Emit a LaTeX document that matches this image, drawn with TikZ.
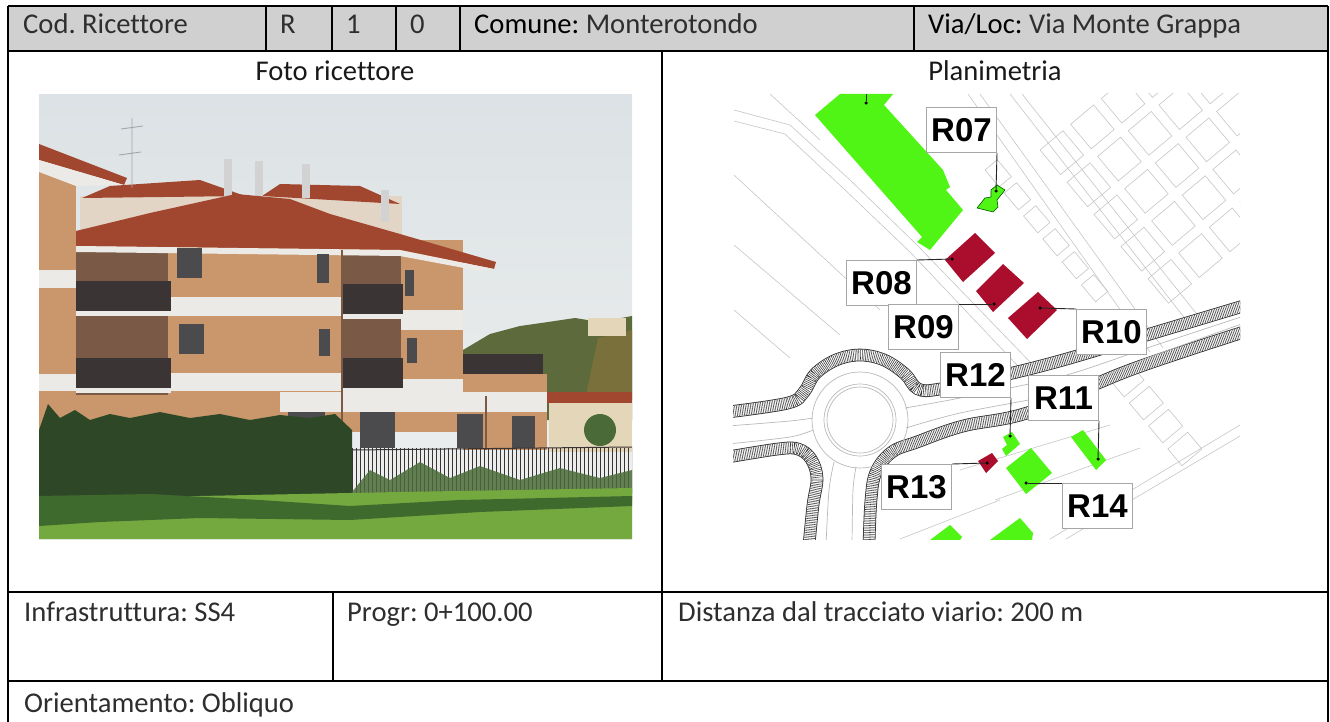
\documentclass[tikz,border=0pt]{standalone}
\usepackage{fontspec}
\setmainfont{Carlito}[Ligatures=NoCommon]
\newfontfamily\mapfont{Liberation Sans}
\frenchspacing
\definecolor{headgray}{HTML}{D0D0D0}
\definecolor{mapgreen}{RGB}{80,245,22}
\definecolor{mapred}{RGB}{170,14,44}
\definecolor{skytop}{HTML}{DCE2E5}
\definecolor{skybot}{HTML}{EEF0EF}
\definecolor{brick}{HTML}{C9976B}
\definecolor{brickdark}{HTML}{7A5A47}
\definecolor{roof}{HTML}{A2472F}
\definecolor{stripe}{HTML}{ECEAE6}
\definecolor{rail}{HTML}{3A3434}
\definecolor{window}{HTML}{4B4B4D}
\definecolor{hill}{HTML}{5D6A3B}
\definecolor{hedge}{HTML}{2E4827}
\definecolor{hedgelight}{HTML}{4A6B37}
\definecolor{grass}{HTML}{74A93F}
\definecolor{bush}{HTML}{3F6A2D}
\definecolor{cream}{HTML}{E4D6B8}

\begin{document}
\begin{tikzpicture}[x=1pt,y=-1pt,
  grid line/.style={line width=2.6pt,black},
  cell text/.style={anchor=base west,inner sep=0pt,text=black!82,font=\fontsize{28.6}{32}\selectfont},
  title text/.style={anchor=base,inner sep=0pt,text=black!90,font=\fontsize{28.6}{32}\selectfont},
  map label/.style={anchor=north west,draw=gray!70,line width=1pt,fill=white,minimum width=70pt,minimum height=45pt,inner sep=0pt,font=\mapfont\bfseries\fontsize{33}{33}\selectfont},
  map dot/.style={circle,fill=black,inner sep=0pt,minimum size=3.5pt},
  leader/.style={draw=black!85,line width=0.9pt},
  lot/.style={draw=gray!45,line width=0.6pt},
  road edge/.style={draw=gray!30!black,solid,line width=0.8pt,double=white,double distance=11pt},
  road/.style={draw=gray!45!black,line width=11pt,dash pattern=on 0.55pt off 1.2pt,preaction={road edge}},
  lane/.style={draw=gray!55,line width=0.7pt},
  house/.style={fill=mapgreen},
  receiver/.style={fill=mapred}]

  \useasboundingbox (0,0) rectangle (1330,722);
  \fill[white] (0,0) rectangle (1330,722);
  \fill[headgray] (8,6) rectangle (1328,51);

  % foto
  \begin{scope}
    \clip (39,95) rectangle (632,539);
    \fill[top color=skytop,bottom color=skybot] (39,95) rectangle (632,539);
    \fill[hill] (463,350) -- (490,334) -- (520,326) -- (548,322) -- (575,318) -- (600,322) -- (632,316) -- (632,420) -- (463,420) -- cycle;
    \fill[hill!70!brown] (598,338) -- (632,330) -- (632,400) -- (585,400) -- cycle;
    \fill[cream] (588,318) rectangle (626,336);
    \fill[brick] (39,170) rectangle (76,445);
    \fill[stripe] (39,270) rectangle (76,288);
    \fill[stripe] (39,374) rectangle (76,391);
    \fill[roof] (39,144) -- (127,178) -- (124,185) -- (39,160) -- cycle;
    \fill[stripe] (39,160) -- (124,185) -- (76,186) -- (39,172) -- cycle;
    \fill[stripe!80!brown] (80,196) rectangle (240,234);
    \fill[stripe!80!brown] (270,196) rectangle (402,240);
    \fill[roof] (82,198) -- (110,186) -- (200,180) -- (245,196) -- cycle;
    \fill[roof] (262,196) -- (280,184) -- (360,186) -- (400,204) -- cycle;
    \foreach \cx/\ct/\cb in {228/159/200,259/161/202,306/164/198,385/190/222}
      \fill[gray!35] (\cx-4,\ct) rectangle (\cx+4,\cb);
    \draw[gray!70,line width=0.9pt] (132,118) -- (132,188) (121,129) -- (143,126) (119,155) -- (141,152);
    \fill[brick] (76,240) rectangle (463,432);
    \fill[brickdark] (76,252) rectangle (168,395);
    \fill[brickdark] (343,254) rectangle (401,395);
    \fill[stripe] (168,297) rectangle (343,316);
    \fill[stripe] (401,310) rectangle (463,330);
    \fill[stripe] (168,373) rectangle (343,391);
    \fill[stripe] (401,379) rectangle (463,396);
    \fill[brick] (463,374) rectangle (547,450);
    \fill[stripe] (280,392) rectangle (547,412);
    \fill[rail] (463,354) rectangle (543,374);
    \fill[roof] (76,231) -- (150,213) -- (236,194) -- (290,199) -- (330,214) -- (400,234) -- (496,262) -- (494,269) -- (400,250) -- (76,246) -- cycle;
    \fill[stripe] (76,246) -- (400,250) -- (494,269) -- (480,271) -- (400,256) -- (76,252) -- cycle;
    \foreach \bx/\by/\bw in {76/281/95,76/358/95,343/284/60,343/358/60} {
      \fill[rail] (\bx,\by) rectangle ++(\bw,30);
      \fill[stripe] (\bx,\by+30) rectangle ++(\bw,5);
    }
    \foreach \wx/\wy/\ww/\wh in {177/248/25/30,179/324/25/30,317/254/12/29,319/329/11/27,405/270/9/26,407/338/10/25,288/412/37/20,360/412/35/36,457/414/26/34,512/416/23/32}
      \fill[window] (\wx,\wy) rectangle ++(\ww,\wh);
    \draw[brickdark,line width=1.4pt] (342,250) -- (342,432) (486,396) -- (486,450);
    \fill[cream] (549,400) rectangle (632,452);
    \fill[roof] (547,392) rectangle (632,403);
    \fill[hedgelight] (600,430) circle (16);
    \fill[hedge] (39,430) -- (48,404) -- (60,418) -- (75,410) -- (90,420) -- (110,414) -- (130,418) -- (160,412) -- (190,418) -- (220,414) -- (250,420) -- (280,415) -- (310,418) -- (335,414) -- (352,430) -- (352,500) -- (39,505) -- cycle;
    \foreach \fx in {352,356,...,632} \draw[rail,line width=0.7pt] (\fx,448) -- (\fx,494);
    \draw[rail,line width=1pt] (352,450) -- (632,447);
    \fill[hedgelight,opacity=0.85] (352,492) -- (370,470) -- (390,480) -- (420,462) -- (450,478) -- (480,466) -- (520,480) -- (560,468) -- (600,478) -- (632,470) -- (632,500) -- (352,500) -- cycle;
    \fill[grass] (39,500) -- (200,496) -- (400,492) -- (632,488) -- (632,539) -- (39,539) -- cycle;
    \fill[bush] (39,496) -- (150,494) -- (260,500) -- (350,506) -- (460,500) -- (632,496) -- (632,506) -- (480,512) -- (350,520) -- (200,518) -- (100,522) -- (39,526) -- cycle;
  \end{scope}

  % planimetria
  \begin{scope}
    \clip (733,94) rectangle (1240,539);
    \draw[lot] (734,110) -- (790,125) -- (850,180) -- (917,245) -- (1030,362);
    \draw[lot] (734,121) -- (785,134) -- (843,188) -- (910,252) -- (1018,366);
    \draw[lot] (734,175) -- (880,310);
    \draw[lot] (734,245) -- (840,335);
    \draw[lot] (734,310) -- (790,358);
    \draw[lot] (770,94) -- (820,140);
    \draw[lot] (968,94) -- (1150,352);
    \draw[lot] (980,94) -- (1163,348);
    \draw[lot] (1010,94) -- (1190,325);
    \draw[lot] (1022,94) -- (1203,322);
    \draw[lot] (1050,539) -- (1240,425);
    \draw[lot] (1066,539) -- (1240,436);
    \draw[lot] (960,470) -- (1110,425);
    \draw[lot] (995,500) -- (1140,448);
    \draw[lot] (900,539) -- (1000,500);
    \begin{scope}[shift={(985,170)},rotate=-50]
      \foreach \i in {0,...,5} \draw[lot] (\i*30,0) rectangle ++(22,-16);
    \end{scope}
    \begin{scope}[shift={(1040,150)},rotate=-50]
      \foreach \i in {0,...,4} \foreach \j in {0,...,4}
        \draw[lot] (\i*42,-\j*40) rectangle ++(32,-30);
    \end{scope}
    \begin{scope}[shift={(1110,380)},rotate=-50]
      \foreach \i in {0,...,3} \draw[lot] (\i*30,0) rectangle ++(22,-26);
    \end{scope}
    \draw[road] plot[smooth,tension=0.6] coordinates {(728,412) (788,403) (804,392) (815,374) (836,360) (860,355) (884,360) (905,374) (918,389) (940,389) (1000,376) (1063,360) (1150,334) (1250,304)};
    \draw[road] plot[smooth,tension=0.6] coordinates {(728,457) (778,449) (798,449) (811,459) (817,478) (813,505) (809,545)};
    \draw[road] plot[smooth,tension=0.6] coordinates {(869,545) (871,500) (876,472) (892,452) (917,442) (963,426) (1030,412) (1130,370) (1250,330)};
    \draw[lane] (860,420) circle (48) circle (36) circle (33);
    \draw[lane] plot[smooth] coordinates {(728,426) (790,421) (813,418)};
    \draw[lane] plot[smooth] coordinates {(728,444) (790,437) (813,430)};
    \draw[lane] plot[smooth] coordinates {(826,545) (829,490) (834,462)};
    \draw[lane] plot[smooth] coordinates {(852,545) (853,490) (856,467)};
    \draw[lane] plot[smooth] coordinates {(905,408) (960,398) (1063,376) (1150,347) (1250,314)};
    \draw[lane] plot[smooth] coordinates {(906,428) (960,413) (1063,392) (1150,357) (1250,321)};
    \fill[house] (840,94) -- (893,94) -- (884,105) -- (943,170) -- (950,187) -- (946,190) -- (963,210) -- (930,250) -- (917,242) -- (922,237) -- (815,115) -- cycle;
    \filldraw[house,draw=green!35!black,line width=0.6pt] (997,185) -- (1005,190) -- (997,200) -- (998,207) -- (993,212) -- (977,208) -- (985,198) -- (991,197) -- (991,190) -- cycle;
    \fill[receiver] (975,233) -- (995,253) -- (963,282) -- (945,260) -- cycle;
    \fill[receiver] (1003,264) -- (1024,283) -- (993,312) -- (976,291) -- cycle;
    \fill[receiver] (1038,292) -- (1057,310) -- (1027,339) -- (1008,318) -- cycle;
    \fill[house] (1003,437) -- (1012,432) -- (1020,444) -- (1006,456) -- (1002,449) -- (1007,445) -- cycle;
    \fill[receiver] (978,461) -- (992,453) -- (998,461) -- (986,473) -- cycle;
    \fill[house] (1071,437) -- (1083,430) -- (1106,460) -- (1096,470) -- cycle;
    \fill[house] (1006,468) -- (1031,448) -- (1052,473) -- (1026,494) -- cycle;
    \fill[house] (930,540) -- (950,525) -- (962,537) -- (960,540) -- cycle;
    \fill[house] (990,540) -- (1020,518) -- (1033,533) -- (1032,540) -- cycle;
  \end{scope}

  \node[map dot] (d06) at (866,103) {};
  \node[map dot] (d07) at (996,191) {};
  \node[map dot] (d08) at (952,259) {};
  \node[map dot] (d09) at (994,304) {};
  \node[map dot] (d10) at (1040,308) {};
  \node[map dot] (d12) at (1010,436) {};
  \node[map dot] (d11) at (1098,459) {};
  \node[map dot] (d13) at (987,463) {};
  \node[map dot] (d14) at (1026,483) {};
  \coordinate (up06) at (866,94);

  \node[map label] (r07) at (926,107) {R07};
  \node[map label] (r08) at (846,260) {R08};
  \node[map label] (r09) at (888,304) {R09};
  \node[map label] (r10) at (1076,309) {R10};
  \node[map label] (r12) at (940,352) {R12};
  \node[map label] (r11) at (1028,375) {R11};
  \node[map label] (r13) at (881,464) {R13};
  \node[map label] (r14) at (1062,483) {R14};

  \draw[leader] (d06) -- (up06);
  \draw[leader] (r07.south east) -- (d07);
  \draw[leader] (r08.north east) -- (d08);
  \draw[leader] (r09.north east) -- (d09);
  \draw[leader] (r10.north west) -- (d10);
  \draw[leader] (r12.south east) -- (d12);
  \draw[leader] (r11.south east) -- (d11);
  \draw[leader] (r13.north east) -- (d13);
  \draw[leader] (r14.north west) -- (d14);

  % tabella
  \draw[grid line] (8,6) -- (1328,6);
  \draw[grid line] (8,51) -- (1328,51);
  \draw[grid line] (8,592) -- (1328,592);
  \draw[grid line] (8,681) -- (1328,681);
  \draw[grid line] (8,6) -- (8,722);
  \draw[grid line] (1328,6) -- (1328,722);
  \foreach \gx in {266,332,396,460,914} \draw[grid line] (\gx,6) -- (\gx,51);
  \draw[grid line] (662,51) -- (662,681);
  \draw[grid line] (333,592) -- (333,681);

  \node[cell text] (cod) at (23,34) {Cod. Ricettore};
  \node[cell text] (codR) at (280,34) {R};
  \node[cell text] (cod1) at (346,34) {1};
  \node[cell text] (cod0) at (410,34) {0};
  \node[cell text] (comune) at (474,34) {\textcolor{black}{Comune:} Monterotondo};
  \node[cell text] (via) at (928,34) {\textcolor{black}{Via/Loc:} Via Monte Grappa};
  \node[title text] (foto) at (335,81) {Foto ricettore};
  \node[title text] (plan) at (995,81) {Planimetria};
  \node[cell text] (infra) at (24,621) {Infrastruttura: SS4};
  \node[cell text] (progr) at (347,621) {Progr: 0+100.00};
  \node[cell text] (dist) at (678,621) {Distanza dal tracciato viario: 200 m};
  \node[cell text] (orient) at (24,712) {Orientamento: Obliquo};
\end{tikzpicture}
\end{document}
